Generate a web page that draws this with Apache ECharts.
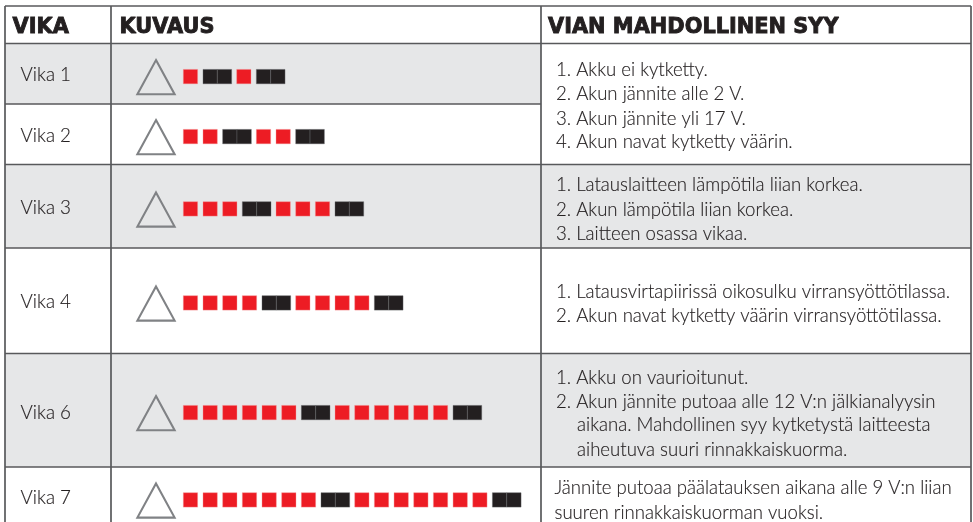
<!DOCTYPE html>
<html><head><meta charset="utf-8">
<style>html,body{margin:0;padding:0;background:#fff}#c{width:973px;height:522px}</style>
<script src="https://cdn.jsdelivr.net/npm/echarts@6/dist/echarts.min.js"></script>
</head><body><div id="c"></div>
<script>
// ---- data ----
const headers = ['VIKA', 'KUVAUS', 'VIAN MAHDOLLINEN SYY'];
const categories = ['Vika 1', 'Vika 2', 'Vika 3', 'Vika 4', 'Vika 6', 'Vika 7'];
const redFlashCounts = [1, 2, 3, 4, 6, 7];
const causesA = ['1. Akku ei kytketty.', '2. Akun jännite alle 2 V.', '3. Akun jännite yli 17 V.', '4. Akun navat kytketty väärin.'];
const causesB = ['1. Latauslaitteen lämpötila liian korkea.', '2. Akun lämpötila liian korkea.', '3. Laitteen osassa vikaa.'];
const causesC = ['1. Latausvirtapiirissä oikosulku virransyöttötilassa.', '2. Akun navat kytketty väärin virransyöttötilassa.'];
const causesD = ['1. Akku on vaurioitunut.', '2. Akun jännite putoaa alle 12 V:n jälkianalyysin', 'aikana. Mahdollinen syy kytketystä laitteesta', 'aiheutuva suuri rinnakkaiskuorma.'];
const causesE = ['Jännite putoaa päälatauksen aikana alle 9 V:n liian', 'suuren rinnakkaiskuorman vuoksi.'];

// ---- layout ----
const W = 973, H = 522;
const colX = [5, 111, 541, 971];
const rowY = [6, 43.5, 104, 164.5, 248, 353.5, 467, 522];
const rowMid = [76.6, 136.6, 208.9, 302.9, 412.6, 499.9];
const labelMid = [75, 136, 208, 302, 413, 498];
const shaded = [true, false, true, false, true, false];
const causeBlocks = [
  {lines: causesA, x: 556, y: [70, 94, 118.5, 142]},
  {lines: causesB, x: 556, y: [185, 210, 234]},
  {lines: causesC, x: 556, y: [291.7, 315.7]},
  {lines: causesD, x: 556, y: [378, 401.7, 425, 450], indent: [0, 0, 21, 21]},
  {lines: causesE, x: 554.5, y: [488, 513]}
];
const headerX = [12.5, 119.5, 548];
const BODY = 'Lato, "Noto Sans", sans-serif';
const HEAD = '"DejaVu Sans", sans-serif';
const INK = '#231f20', RED = '#ed1c24', GREY = '#e6e7e8', RULE = '#58595b', TRI = '#808285';
const CELL = 14.35, PITCH = 19.67, START = 183.3, JUMP = 5;

const textRows = [];
headers.forEach((t, i) => textRows.push({t, x: headerX[i], y: 27.5, font: `bold 20.9px ${HEAD}`, edge: 0.9}));
categories.forEach((t, i) => textRows.push({t, x: 20.5, y: labelMid[i], font: `300 18.8px ${BODY}`, edge: 0.15}));
causeBlocks.forEach(b => b.lines.forEach((t, i) => textRows.push({t, x: b.x + (b.indent ? b.indent[i] : 0), y: b.y[i], font: `300 18.6px ${BODY}`, edge: 0.15})));

// fill rectangles: [x0,y0,x1,y1]
const fills = [];
shaded.forEach((s, i) => {
  if (!s) return;
  fills.push([colX[0], rowY[i + 1], i === 0 ? colX[2] : colX[3], rowY[i + 2]]);
});
// rules
const rules = [
  [colX[0], rowY[0], colX[3], rowY[0]], [colX[0], rowY[1], colX[3], rowY[1]],
  [colX[0], rowY[2], colX[2], rowY[2]], [colX[0], rowY[3], colX[3], rowY[3]],
  [colX[0], rowY[4], colX[3], rowY[4]], [colX[0], rowY[5], colX[3], rowY[5]],
  [colX[0], rowY[6], colX[3], rowY[6]]
];
colX.forEach(x => rules.push([x, rowY[0], x, H]));

// pulses: [x, y, kind]
const pulses = [];
redFlashCounts.forEach((n, r) => {
  let s = START;
  for (let g = 0; g < 2; g++) {
    for (let k = 0; k < n; k++) { pulses.push([s, rowMid[r], 0]); s += PITCH; }
    pulses.push([s, rowMid[r], 1]); pulses.push([s + CELL, rowMid[r], 1]);
    s += 2 * CELL + JUMP;
  }
});

const chart = echarts.init(document.getElementById('c'), null, {renderer: 'canvas'});
const xy = (api, a, b) => api.coord([a, b]);
chart.setOption({
  animation: false,
  backgroundColor: '#fff',
  grid: {left: 0, right: 0, top: 0, bottom: 0},
  xAxis: {type: 'value', min: 0, max: W, show: false},
  yAxis: {type: 'value', min: 0, max: H, inverse: true, show: false},
  series: [
    {type: 'custom', coordinateSystem: 'cartesian2d', silent: true, z: 1, data: fills, encode: {x: [0, 2], y: [1, 3]},
     renderItem: (p, api) => {
       const a = xy(api, api.value(0), api.value(1)), b = xy(api, api.value(2), api.value(3));
       return {type: 'rect', shape: {x: a[0], y: a[1], width: b[0] - a[0], height: b[1] - a[1]}, style: {fill: GREY}};
     }},
    {type: 'custom', coordinateSystem: 'cartesian2d', silent: true, z: 2, data: rules, encode: {x: [0, 2], y: [1, 3]},
     renderItem: (p, api) => {
       const a = xy(api, api.value(0), api.value(1)), b = xy(api, api.value(2), api.value(3));
       return {type: 'line', shape: {x1: a[0], y1: a[1], x2: b[0], y2: b[1]}, style: {stroke: RULE, lineWidth: 1.7}};
     }},
    {type: 'custom', coordinateSystem: 'cartesian2d', silent: true, z: 3, data: rowMid.map(y => [156, y]), encode: {x: 0, y: 1},
     renderItem: (p, api) => {
       const c = xy(api, api.value(0), api.value(1));
       return {type: 'polygon', shape: {points: [[c[0], c[1] - 16.5], [c[0] + 18.6, c[1] + 17.7], [c[0] - 18.6, c[1] + 17.7]]},
               style: {fill: 'none', stroke: TRI, lineWidth: 2.1}};
     }},
    {type: 'custom', coordinateSystem: 'cartesian2d', silent: true, z: 4, data: pulses, encode: {x: 0, y: 1},
     renderItem: (p, api) => {
       const c = xy(api, api.value(0), api.value(1)), kind = api.value(2);
       return {type: 'rect', shape: {x: c[0], y: c[1] - 7.2, width: CELL, height: 14.4},
               style: kind ? {fill: INK, stroke: '#6d6e71', lineWidth: 0.4} : {fill: RED, stroke: '#f6a0a0', lineWidth: 0.4}};
     }},
    {type: 'custom', coordinateSystem: 'cartesian2d', silent: true, z: 5, data: textRows.map((r, i) => [r.x, r.y, i]), encode: {x: 0, y: 1},
     renderItem: (p, api) => {
       const c = xy(api, api.value(0), api.value(1)), r = textRows[api.value(2)];
       return {type: 'text', x: c[0], y: c[1],
               style: {text: r.t, fill: INK, font: r.font, stroke: INK, lineWidth: r.edge, textAlign: 'left', textVerticalAlign: 'middle'}};
     }}
  ]
});
</script></body></html>
